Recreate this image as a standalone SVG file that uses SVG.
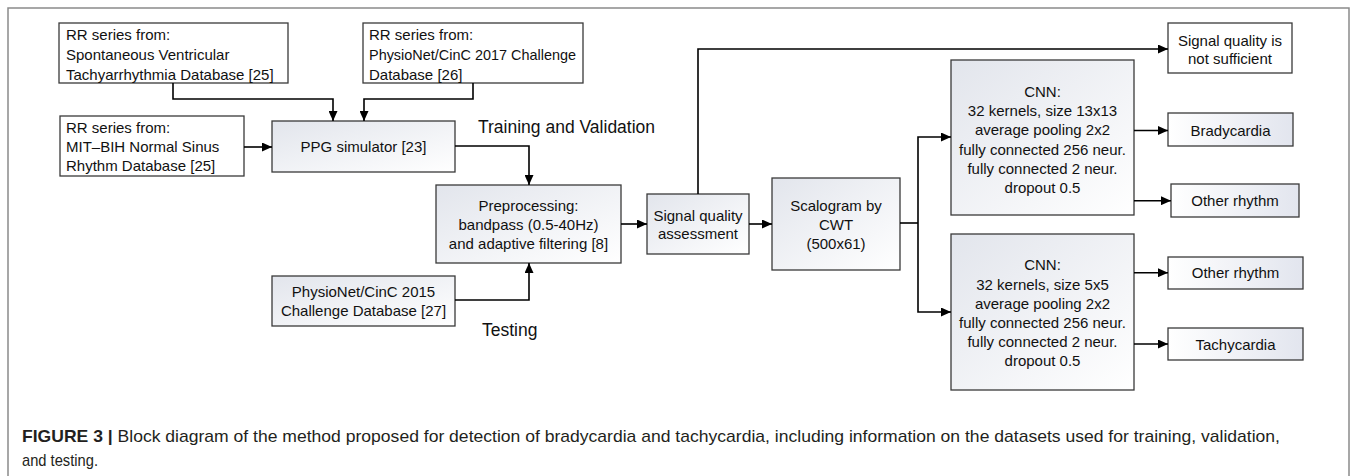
<svg xmlns="http://www.w3.org/2000/svg" width="1356" height="476" viewBox="0 0 1356 476">
<style>
.frame{fill:none;stroke:#8a8a8a;stroke-width:1.5}
.box{stroke:#3a3a3a;stroke-width:1.3}
.w{fill:#ffffff}
.g{fill:url(#grad)}
.gr{fill:url(#gradR)}
.t{font-family:"Liberation Sans",Arial,sans-serif;font-size:15px;fill:#111}
.c{text-anchor:middle}
.lbl{font-family:"Liberation Sans",Arial,sans-serif;font-size:17.5px;fill:#111}
.cap{font-family:"Liberation Sans",Arial,sans-serif;font-size:17px;fill:#231f20}
.conn path{fill:none;stroke:#000;stroke-width:1.6;marker-end:url(#arr)}
.conn path.plain{marker-end:none}
</style>
<defs>
<linearGradient id="grad" x1="0" y1="0" x2="1" y2="1">
<stop offset="0" stop-color="#e2e5ec"/>
<stop offset="1" stop-color="#ffffff"/>
</linearGradient>
<linearGradient id="gradR" x1="0" y1="0" x2="1" y2="0">
<stop offset="0" stop-color="#ffffff"/>
<stop offset="1" stop-color="#e2e5ee"/>
</linearGradient>
<marker id="arr" markerUnits="userSpaceOnUse" markerWidth="10" markerHeight="9" refX="10" refY="4.5" orient="auto">
<path d="M0,0 L10,4.5 L0,9 z" fill="#000"/>
</marker>
</defs>
<rect width="1356" height="476" fill="#ffffff"/>
<path class="frame" d="M8,480 V8 H1349 V480"/>

<g id="svt"><rect class="box w" x="59" y="23" width="229" height="60"/>
<text class="t" x="66" y="40">RR series from:</text>
<text class="t" x="66" y="60">Spontaneous Ventricular</text>
<text class="t" x="66" y="80">Tachyarrhythmia Database [25]</text></g>

<g id="cinc2017"><rect class="box w" x="363" y="23" width="220" height="60"/>
<text class="t" x="369" y="40">RR series from:</text>
<text class="t" x="369" y="60" textLength="207" lengthAdjust="spacingAndGlyphs">PhysioNet/CinC 2017 Challenge</text>
<text class="t" x="369" y="80">Database [26]</text></g>

<g id="mitbih"><rect class="box w" x="60" y="116" width="184" height="60"/>
<text class="t" x="66" y="133">RR series from:</text>
<text class="t" x="66" y="152">MIT–BIH Normal Sinus</text>
<text class="t" x="66" y="171">Rhythm Database [25]</text></g>

<g id="ppg"><rect class="box g" x="272" y="121" width="183" height="51"/>
<text class="t c" x="363.5" y="152">PPG simulator [23]</text></g>

<g id="preproc"><rect class="box g" x="436" y="185" width="185" height="78"/>
<text class="t c" x="528.5" y="211">Preprocessing:</text>
<text class="t c" x="528.5" y="230">bandpass (0.5-40Hz)</text>
<text class="t c" x="528.5" y="249">and adaptive filtering [8]</text></g>

<g id="cinc2015"><rect class="box g" x="272" y="276" width="183" height="50"/>
<text class="t c" x="363.5" y="297">PhysioNet/CinC 2015</text>
<text class="t c" x="363.5" y="316">Challenge Database [27]</text></g>

<g id="sqa"><rect class="box g" x="647" y="194" width="102" height="60"/>
<text class="t c" x="698" y="221">Signal quality</text>
<text class="t c" x="698" y="239">assessment</text></g>

<g id="scalogram"><rect class="box g" x="772" y="178" width="128" height="92"/>
<text class="t c" x="836" y="211">Scalogram by</text>
<text class="t c" x="836" y="230">CWT</text>
<text class="t c" x="836" y="249">(500x61)</text></g>

<g id="sqbad"><rect class="box w" x="1168" y="23" width="124" height="50"/>
<text class="t c" x="1230" y="46">Signal quality is</text>
<text class="t c" x="1230" y="64">not sufficient</text></g>

<g id="cnn1"><rect class="box g" x="951" y="60" width="183" height="155"/>
<text class="t c" x="1042.5" y="97">CNN:</text>
<text class="t c" x="1042.5" y="116.2">32 kernels, size 13x13</text>
<text class="t c" x="1042.5" y="135.4">average pooling 2x2</text>
<text class="t c" x="1042.5" y="154.6">fully connected 256 neur.</text>
<text class="t c" x="1042.5" y="173.8">fully connected 2 neur.</text>
<text class="t c" x="1042.5" y="193">dropout 0.5</text></g>

<g id="brady"><rect class="box gr" x="1168" y="113" width="125" height="33"/>
<text class="t c" x="1230.5" y="135.5">Bradycardia</text></g>

<g id="other1"><rect class="box gr" x="1171" y="184" width="128" height="33"/>
<text class="t c" x="1235" y="206">Other rhythm</text></g>

<g id="cnn2"><rect class="box g" x="951" y="234" width="183" height="156"/>
<text class="t c" x="1042.5" y="270.4">CNN:</text>
<text class="t c" x="1042.5" y="289.6">32 kernels, size 5x5</text>
<text class="t c" x="1042.5" y="308.8">average pooling 2x2</text>
<text class="t c" x="1042.5" y="328">fully connected 256 neur.</text>
<text class="t c" x="1042.5" y="347.2">fully connected 2 neur.</text>
<text class="t c" x="1042.5" y="366.4">dropout 0.5</text></g>

<g id="other2"><rect class="box gr" x="1168" y="257" width="135" height="32"/>
<text class="t c" x="1235.5" y="278">Other rhythm</text></g>

<g id="tachy"><rect class="box gr" x="1168" y="328" width="135" height="32"/>
<text class="t c" x="1235.5" y="349.5">Tachycardia</text></g>

<g id="labels">
<text class="lbl" x="478" y="133">Training and Validation</text>
<text class="lbl" x="482" y="336">Testing</text>
</g>

<g id="connectors" class="conn">
<path d="M173,83 V99 H333 V121"/>
<path d="M473,83 V99 H364 V121"/>
<path d="M244,147 H272"/>
<path d="M455,146 H529 V185"/>
<path d="M455,300 H529 V263"/>
<path d="M621,224 H647"/>
<path d="M749,224 H772"/>
<path d="M698,194 V49 H1168"/>
<path class="plain" d="M900,223 H918"/>
<path d="M918,223 V137 H951"/>
<path d="M918,223 V312 H951"/>
<path d="M1134,130.5 H1168"/>
<path d="M1134,200.7 H1171"/>
<path d="M1134,272.7 H1168"/>
<path d="M1134,344 H1168"/>
</g>

<g id="caption">
<text class="cap" x="22" y="442" textLength="1258" lengthAdjust="spacingAndGlyphs"><tspan font-weight="bold">FIGURE 3</tspan><tspan font-weight="bold"> | </tspan>Block diagram of the method proposed for detection of bradycardia and tachycardia, including information on the datasets used for training, validation,</text>
<text class="cap" x="22" y="466" textLength="76" lengthAdjust="spacingAndGlyphs">and testing.</text>
</g>
</svg>
